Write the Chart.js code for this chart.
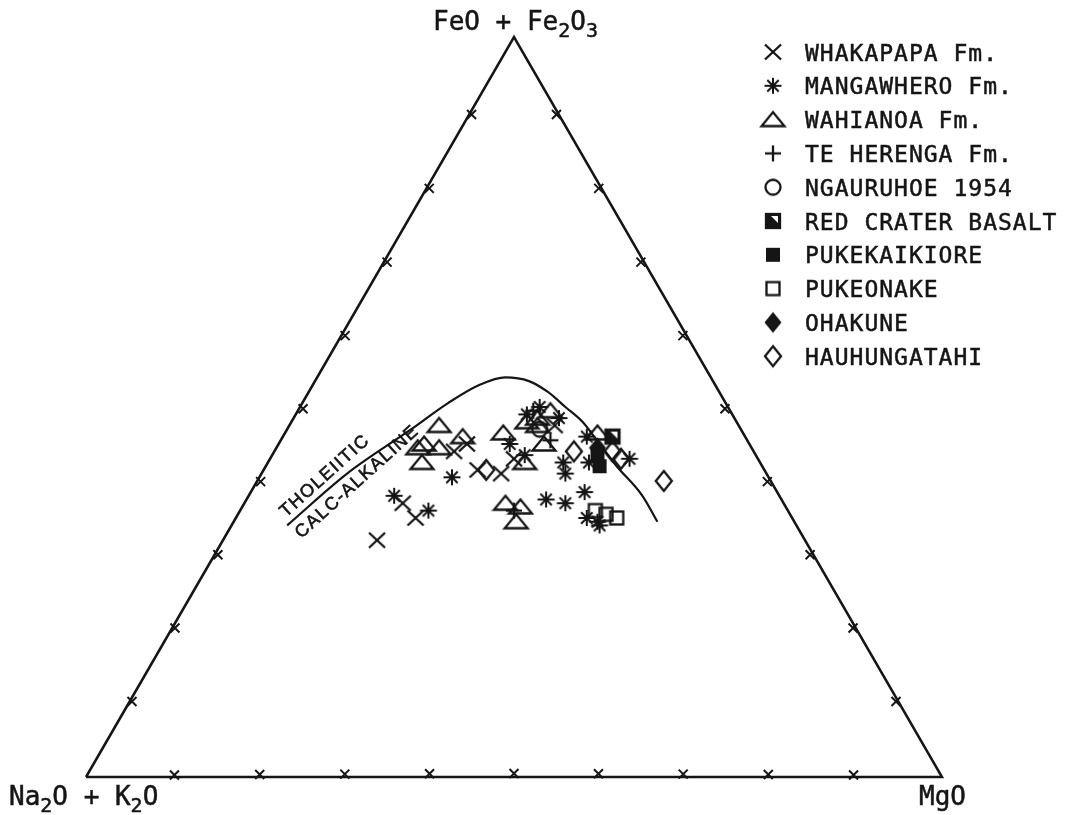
<!DOCTYPE html>
<html>
<head>
<meta charset="utf-8">
<title>AFM diagram</title>
<script src="https://cdn.jsdelivr.net/npm/chart.js@4.4.1/dist/chart.umd.min.js"></script>
<style>
  html, body { margin: 0; padding: 0; background: #ffffff; }
  canvas { display: block; }
</style>
</head>
<body>
<canvas id="afm" width="1069" height="815"></canvas>
<script>
// Compositions as [Na2O+K2O, FeO+Fe2O3, MgO], proportions in percent
const whakapapa = [[50,32,18],[44.5,37,18.5],[44,35,21],[35,44,21],[33,45,22],[33.5,41.5,25],[31,41,28],[28.5,43,28.5],[21.5,47.5,31]];
const mangawhero = [[45,38,17],[42,36,22],[37,40.5,22.5],[28,45,27],[24,49,27],[22,50,28],[20.5,48.5,31],[27,43.5,29.5],[23,42.5,34.5],[23.5,41,35.5],[27.5,37.5,35],[25.5,37,37.5],[22.5,38.5,39],[18.5,46,35.5],[20,42.5,37.5],[15,43,42],[24,35,41],[23,34.5,42.5],[23,34,43]];
const wahianoa = [[35,47.5,17.5],[33,46,21],[38,45,17],[36.5,44.5,19],[39.5,42.5,18],[39,44.5,16.5],[28,46.5,25.5],[24.5,48,27.5],[23,48.5,28.5],[21,49.5,29.5],[24,45,31],[27.5,42.5,30],[17,46.5,36.5],[32.5,37,30.5],[31,36.5,32.5],[32.5,34.5,33],[23.5,47.5,29]];
const teHerenga = [[23,49.5,27.5],[32,36,32],[23,45.5,31.5]];
const ngauruhoe1954 = [[23.5,47,29.5]];
const redCraterBasalt = [[15.5,46,38.5]];
const pukekaikiore = [[19,42,39],[18.5,43.5,38]];
const pukeonake = [[22.5,36,41.5],[21.5,35.5,43],[20.5,35,44.5]];
const ohakune = [[18,44.5,37.5]];
const hauhungatahi = [[32.5,41.5,26],[21,44,35],[16.5,44,39.5],[16,43,41],[12.5,40,47.5]];

// Tholeiitic / calc-alkaline dividing line
const divideLine = [[59.5,34,6.5],[49,41,10],[38.5,47,14.5],[32.5,50.5,17],[27.5,53,19.5],[24,54,22],[21.5,53.5,25],[20,52,28],[19,50,31],[18,48,34],[17.5,45,37.5],[17,42,41],[16,38,46],[16,34.5,49.5]];

// Triangle corners and edge tick steps (percent)
const corners = [[100,0,0],[0,0,100],[0,100,0],[100,0,0]];
const tickSteps = [10,20,30,40,50,60,70,80,90];

const seriesNames = ['WHAKAPAPA Fm.','MANGAWHERO Fm.','WAHIANOA Fm.','TE HERENGA Fm.','NGAURUHOE 1954','RED CRATER BASALT','PUKEKAIKIORE','PUKEONAKE','OHAKUNE','HAUHUNGATAHI'];
const seriesData = [whakapapa, mangawhero, wahianoa, teHerenga, ngauruhoe1954, redCraterBasalt, pukekaikiore, pukeonake, ohakune, hauhungatahi];
const seriesSymbols = ['cross','star','triangle','plus','circle','halfSquare','filledSquare','openSquare','filledDiamond','openDiamond'];

const INK = '#151515';
const H = Math.sqrt(3) / 2 * 100;

// ternary -> cartesian (A at lower left, M at lower right, F at apex)
function toXY(p) {
  const s = p[0] + p[1] + p[2];
  const f = p[1] / s * 100, m = p[2] / s * 100;
  return { x: m + f / 2, y: f * Math.sqrt(3) / 2 };
}

// plotter-style marker glyphs
function makeSymbol(kind) {
  const c = document.createElement('canvas');
  c.width = 28; c.height = 28;
  const g = c.getContext('2d');
  g.strokeStyle = INK; g.fillStyle = INK; g.lineWidth = 2.3; g.lineCap = 'butt'; g.lineJoin = 'miter';
  const line = (a, b, d, e) => { g.beginPath(); g.moveTo(a, b); g.lineTo(d, e); g.stroke(); };
  switch (kind) {
    case 'cross':
      line(6, 6.5, 22, 21.5); line(22, 6.5, 6, 21.5); break;
    case 'star':
      g.lineWidth = 2;
      line(5.5, 14, 22.5, 14); line(14, 6, 14, 22);
      line(8.3, 8.3, 19.7, 19.7); line(19.7, 8.3, 8.3, 19.7); break;
    case 'triangle':
      g.beginPath(); g.moveTo(2.5, 20.5); g.lineTo(25.5, 20.5); g.lineTo(14, 6.5); g.closePath(); g.stroke(); break;
    case 'plus':
      line(6, 14, 22, 14); line(14, 6, 14, 22); break;
    case 'circle':
      g.beginPath(); g.arc(14, 14, 7.5, 0, Math.PI * 2); g.stroke(); break;
    case 'halfSquare':
      g.fillRect(7, 7, 14, 14);
      g.fillStyle = '#ffffff';
      g.beginPath(); g.moveTo(12, 9); g.lineTo(19, 9); g.lineTo(19, 16); g.closePath(); g.fill();
      g.strokeRect(7, 7, 14, 14); break;
    case 'filledSquare':
      g.fillRect(7, 7, 14, 14); break;
    case 'openSquare':
      g.strokeRect(7.5, 7.5, 13, 13); break;
    case 'filledDiamond':
      g.beginPath(); g.moveTo(14, 3.5); g.lineTo(22.5, 14); g.lineTo(14, 24.5); g.lineTo(5.5, 14); g.closePath(); g.fill(); break;
    case 'openDiamond':
      g.beginPath(); g.moveTo(14, 4); g.lineTo(22, 14); g.lineTo(14, 24); g.lineTo(6, 14); g.closePath(); g.stroke(); break;
  }
  return c;
}
const symbolImages = seriesSymbols.map(makeSymbol);

// chemical formula with subscripts
function drawFormula(ctx, parts, x, baseline) {
  let cx = x;
  parts.forEach(([txt, sub]) => {
    ctx.font = sub ? '20px "DejaVu Sans Mono"' : '26px "DejaVu Sans Mono"';
    ctx.fillText(txt, cx, sub ? baseline + 7 : baseline);
    ctx.strokeText(txt, cx, sub ? baseline + 7 : baseline);
    cx += ctx.measureText(txt).width;
  });
}

const decor = {
  id: 'afmDecor',
  afterDraw(chart) {
    const { ctx } = chart;
    const sx = chart.scales.x, sy = chart.scales.y;
    const toPx = p => { const q = toXY(p); return [sx.getPixelForValue(q.x), sy.getPixelForValue(q.y)]; };
    ctx.save();
    ctx.strokeStyle = INK; ctx.fillStyle = INK;

    // edge ticks, small x marks just inside each side
    const centre = toPx([100 / 3, 100 / 3, 100 / 3]);
    ctx.lineWidth = 2;
    const edgeFns = [t => [100 - t, 0, t], t => [100 - t, t, 0], t => [0, t, 100 - t]];
    edgeFns.forEach(fn => tickSteps.forEach(t => {
      let [x, y] = toPx(fn(t));
      const dx = centre[0] - x, dy = centre[1] - y, d = Math.hypot(dx, dy);
      x += dx / d * 3.5; y += dy / d * 3.5;
      ctx.beginPath();
      ctx.moveTo(x - 4.5, y - 4.5); ctx.lineTo(x + 4.5, y + 4.5);
      ctx.moveTo(x + 4.5, y - 4.5); ctx.lineTo(x - 4.5, y + 4.5);
      ctx.stroke();
    }));

    // apex labels
    ctx.textAlign = 'left'; ctx.textBaseline = 'alphabetic';
    ctx.letterSpacing = '0px';
    ctx.lineWidth = 0.5;
    drawFormula(ctx, [['FeO + Fe', false], ['2', true], ['O', false], ['3', true]], 433, 30);
    drawFormula(ctx, [['Na', false], ['2', true], ['O + K', false], ['2', true], ['O', false]], 9, 805);
    drawFormula(ctx, [['MgO', false]], 919, 805);

    // field names along the dividing line
    const a = toPx(divideLine[0]), b = toPx(divideLine[1]);
    const ang = Math.atan2(b[1] - a[1], b[0] - a[0]) - 0.02;
    const u = [Math.cos(ang), Math.sin(ang)], n = [u[1], -u[0]];
    ctx.font = '18px "Liberation Sans"';
    ctx.letterSpacing = '1.5px';
    ctx.lineWidth = 0.6;
    ctx.textAlign = 'center'; ctx.textBaseline = 'middle';
    [['THOLEIITIC', -18, 13], ['CALC-ALKALINE', 2, -13]].forEach(([txt, along, up]) => {
      const cx = b[0] + u[0] * along + n[0] * up, cy = b[1] + u[1] * along + n[1] * up;
      ctx.save(); ctx.translate(cx, cy); ctx.rotate(ang);
      ctx.fillText(txt, 0, 0); ctx.strokeText(txt, 0, 0);
      ctx.restore();
    });

    // key
    ctx.font = '23px "DejaVu Sans Mono"';
    ctx.letterSpacing = '1px';
    ctx.lineWidth = 0.5;
    ctx.textAlign = 'left'; ctx.textBaseline = 'alphabetic';
    seriesNames.forEach((name, i) => {
      const rowY = 52 + 33.8 * i;
      ctx.drawImage(symbolImages[i], 773 - 14, rowY - 14);
      ctx.fillText(name, 805, rowY + 8.5);
      ctx.strokeText(name, 805, rowY + 8.5);
    });
    ctx.restore();
  }
};

const datasets = seriesData.map((pts, i) => ({
  label: seriesNames[i],
  data: pts.map(toXY),
  pointStyle: symbolImages[i],
  pointRadius: 10,
  clip: false
}));
datasets.push({
  label: 'divide',
  data: divideLine.map(toXY),
  showLine: true,
  cubicInterpolationMode: 'monotone',
  borderColor: INK,
  borderWidth: 2.2,
  pointRadius: 0,
  clip: false
});
datasets.push({
  label: 'frame',
  data: corners.map(toXY),
  showLine: true,
  tension: 0,
  borderColor: INK,
  borderWidth: 2.5,
  pointRadius: 0,
  clip: false
});

new Chart(document.getElementById('afm'), {
  type: 'scatter',
  data: { datasets },
  options: {
    responsive: false,
    animation: false,
    devicePixelRatio: 1,
    layout: { padding: { left: 86, right: 127, top: 37, bottom: 38 } },
    scales: {
      x: { type: 'linear', min: 0, max: 100, display: false },
      y: { type: 'linear', min: 0, max: H, display: false }
    },
    plugins: { legend: { display: false }, tooltip: { enabled: false } },
    elements: { line: { borderJoinStyle: 'miter' } }
  },
  plugins: [decor]
});
</script>
</body>
</html>
